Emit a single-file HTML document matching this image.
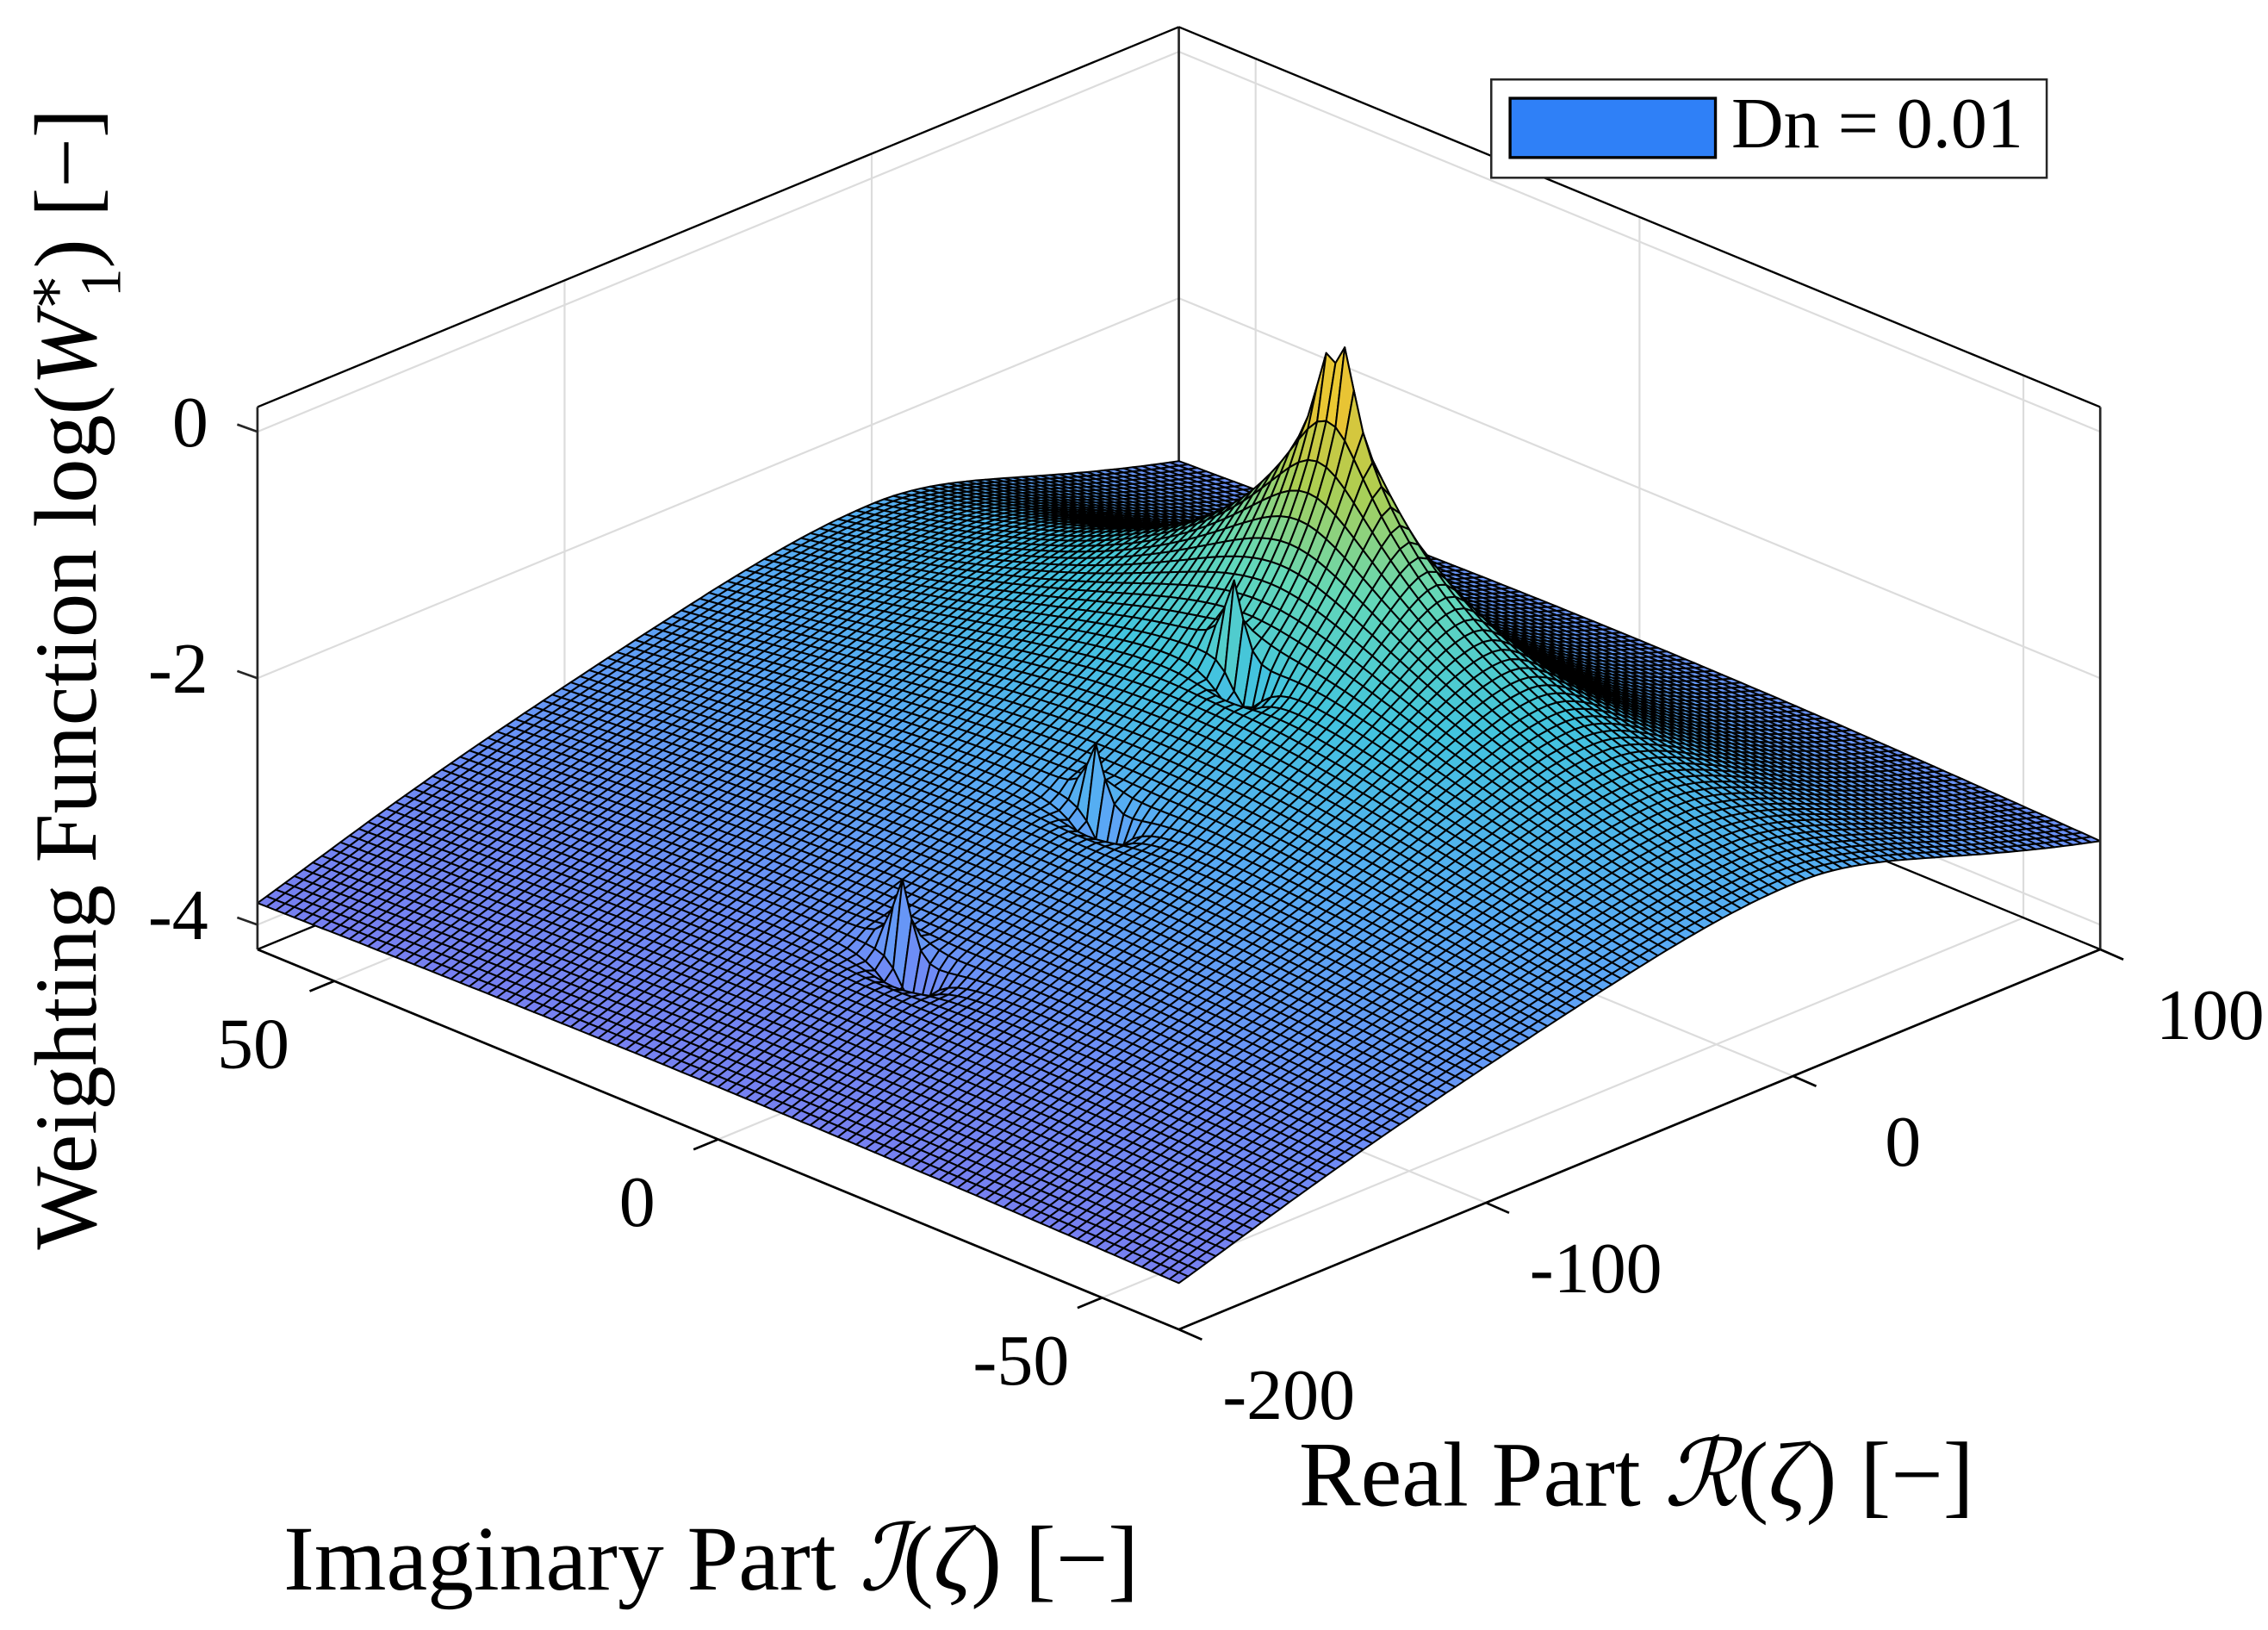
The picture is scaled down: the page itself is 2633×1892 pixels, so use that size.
<!DOCTYPE html>
<html>
<head>
<meta charset="utf-8">
<style>
html,body{margin:0;padding:0;background:#fff;}
svg{display:block;}
text{font-family:"Liberation Serif","DejaVu Serif",serif;fill:#000;}
</style>
</head>
<body>
<svg id="chart" xmlns="http://www.w3.org/2000/svg" width="2633" height="1892" viewBox="0 0 1568 1128" preserveAspectRatio="none">
  <g id="grid"></g>
  <g id="boxback"></g>
  <g id="surface"></g>
  <g id="axes"></g>
  <g id="labels"></g>
  <text transform="translate(66,470) rotate(-90)" text-anchor="middle" font-size="61">Weighting Function log(<tspan font-style="italic">W</tspan><tspan font-size="40" dy="-21">∗</tspan><tspan font-size="40" dx="-17" dy="38">1</tspan><tspan dy="-17">) [−]</tspan></text>
  <text x="196" y="1100" font-size="64">Imaginary Part <tspan font-style="italic">ℐ</tspan>(<tspan font-style="italic">ζ</tspan>) [−]</text>
  <text x="898" y="1042" font-size="64">Real Part <tspan font-style="italic">ℛ</tspan>(<tspan font-style="italic">ζ</tspan>) [−]</text>
  <g>
    <rect x="1031" y="55" width="384" height="68" fill="#fff" stroke="#262626" stroke-width="1.5"/>
    <rect x="1044" y="68" width="142" height="41" fill="#2f80f7" stroke="#000" stroke-width="2"/>
    <text x="1197" y="102" font-size="50">Dn = 0.01</text>
  </g>
</svg>
<script>
// ---- data ----
const realRange = [-200, 100];
const imagRange = [-60, 60];
const zRange = [-4.2, 0.2];
const realTicks = [-200, -100, 0, 100];
const imagTicks = [-50, 0, 50];
const zTicks = [0, -2, -4];
const realTickLabels = ["-200", "-100", "0", "100"];
const imagTickLabels = ["-50", "0", "50"];
const zTickLabels = ["0", "-2", "-4"];
const gridCount = 100;
// poles of the weighting function
const poleReal = [1, 1, 1, -32, -77, -140];
const poleImag = [0, -1.2, 1.2, 0, 0, 0];
const poleAmp = [12, 1.2, 0.8, 0.045, 0.0055, 0.0022];
const poleEps = [45, 1, 1, 1, 1, 1];
const poleBroad = [1, 0, 0, 0, 0, 0];
// zeros (dips) next to the small poles
const zeroReal = [-36, -81, -144];
const zeroImag = [-2.4, -2.4, -2.4];
const zeroDepth = [5, 5, 5];
const zeroWidth = [16, 16, 16];
const bgFloor = -4.4;
const bgRise = 1.0;

// ---- projection ----
function P(R, I, z) {
  const r = (R - realRange[0]) / (realRange[1] - realRange[0]);
  const i = (I - imagRange[0]) / (imagRange[1] - imagRange[0]);
  return [815 + 637 * r - 637 * i, 920 - 263 * r - 263 * i - (z - zRange[0]) * 85.3];
}
function bump(R) {
  return R <= 0 ? Math.exp(-(R / 95) * (R / 95)) : 0.35 + 0.65 * Math.exp(-(R / 60) * (R / 60));
}
function zval(R, I) {
  let W = Math.pow(10, bgFloor + bgRise * bump(R));
  for (let k = 0; k < poleReal.length; k++) {
    const dR = R - poleReal[k], dI = I - poleImag[k];
    if (poleBroad[k]) {
      const sR = dR > 0 ? 4 : 1;
      const taper = Math.exp(-Math.pow(R / 185, 4));
      W += poleAmp[k] / (dR * dR * sR + 2.5 * dI * dI + poleEps[k]) * taper;
    } else {
      W += poleAmp[k] / (dR * dR + dI * dI + poleEps[k]);
    }
  }
  for (let k = 0; k < zeroReal.length; k++) {
    const dR = R - zeroReal[k], dI = I - zeroImag[k];
    const d2 = dR * dR + dI * dI;
    W *= (d2 + zeroDepth[k]) / (d2 + zeroWidth[k]);
  }
  let z = Math.log10(W);
  return Math.max(zRange[0], Math.min(zRange[1], z));
}
const stops = [[0,122,122,238],[0.15,110,140,246],[0.3,88,170,245],[0.45,66,196,222],[0.6,100,216,184],[0.75,172,206,82],[0.9,232,196,52],[1,248,226,40]];
function cmap(t) {
  t = Math.max(0, Math.min(1, t));
  for (let k = 1; k < stops.length; k++) {
    if (t <= stops[k][0]) {
      const a = stops[k - 1], b = stops[k], f = (t - a[0]) / (b[0] - a[0]);
      return "rgb(" + [1, 2, 3].map(j => Math.round(a[j] + (b[j] - a[j]) * f)).join(",") + ")";
    }
  }
  return "rgb(248,226,40)";
}
const NS = "http://www.w3.org/2000/svg";
function line(g, a, b, color, w, name) {
  const el = document.createElementNS(NS, "line");
  el.setAttribute("x1", a[0]); el.setAttribute("y1", a[1]);
  el.setAttribute("x2", b[0]); el.setAttribute("y2", b[1]);
  el.setAttribute("stroke", color); el.setAttribute("stroke-width", w);
  
  
  g.appendChild(el);
}
const zl = zRange[0], zh = zRange[1];
const R0 = realRange[0], R1 = realRange[1], I0 = imagRange[0], I1 = imagRange[1];

// ---- grid ----
const grid = document.getElementById("grid");
const gc = "#dcdcdc", gw = 1.3;
realTicks.forEach(R => {
  if (R > R0 && R < R1) {
    line(grid, P(R, I1, zl), P(R, I1, zh), gc, gw, "grid-line-real-wall");
    line(grid, P(R, I0, zl), P(R, I1, zl), gc, gw, "grid-line-real-floor");
  }
});
imagTicks.forEach(I => {
  line(grid, P(R1, I, zl), P(R1, I, zh), gc, gw, "grid-line-imag-wall");
  line(grid, P(R0, I, zl), P(R1, I, zl), gc, gw, "grid-line-imag-floor");
});
zTicks.forEach(z => {
  line(grid, P(R0, I1, z), P(R1, I1, z), gc, gw, "grid-line-z-left-wall");
  line(grid, P(R1, I1, z), P(R1, I0, z), gc, gw, "grid-line-z-right-wall");
});
const bb = document.getElementById("boxback");
line(bb, P(R0, I1, zl), P(R1, I1, zl), "#000", 1.4, "box-edge");
line(bb, P(R1, I1, zl), P(R1, I0, zl), "#000", 1.4, "box-edge");
line(bb, P(R1, I1, zl), P(R1, I1, zh), "#262626", 1.6, "box-edge-back-vertical");

// ---- surface ----
const N = gridCount;
const Rs = [], Is = [], Z = [];
for (let a = 0; a <= N; a++) Rs.push(R0 + (R1 - R0) * a / N);
for (let b = 0; b <= N; b++) Is.push(I0 + (I1 - I0) * b / N);
for (let a = 0; a <= N; a++) { Z.push([]); for (let b = 0; b <= N; b++) Z[a].push(zval(Rs[a], Is[b])); }
const surf = document.getElementById("surface");
const frag = document.createDocumentFragment();
for (let s = 2 * (N - 1); s >= 0; s--) {
  for (let a = Math.min(N - 1, s); a >= 0 && s - a <= N - 1; a--) {
    const b = s - a;
    const p1 = P(Rs[a], Is[b], Z[a][b]), p2 = P(Rs[a + 1], Is[b], Z[a + 1][b]);
    const p3 = P(Rs[a + 1], Is[b + 1], Z[a + 1][b + 1]), p4 = P(Rs[a], Is[b + 1], Z[a][b + 1]);
    const zm = (Z[a][b] + Z[a + 1][b] + Z[a + 1][b + 1] + Z[a][b + 1]) / 4;
    const el = document.createElementNS(NS, "path");
    el.setAttribute("d", "M" + p1[0].toFixed(1) + " " + p1[1].toFixed(1) + "L" + p2[0].toFixed(1) + " " + p2[1].toFixed(1) + "L" + p3[0].toFixed(1) + " " + p3[1].toFixed(1) + "L" + p4[0].toFixed(1) + " " + p4[1].toFixed(1) + "Z");
    el.setAttribute("fill", cmap((zm + 4.0) / 4.2));
    el.setAttribute("stroke", "#000");
    el.setAttribute("stroke-width", "1.2");
    el.setAttribute("stroke-linejoin", "round");
    
    
    frag.appendChild(el);
  }
}
surf.appendChild(frag);

// ---- axes ----
const ax = document.getElementById("axes");
line(ax, P(R0, I1, zl), P(R0, I1, zh), "#262626", 1.6, "z-axis-line");
line(ax, P(R1, I0, zl), P(R1, I0, zh), "#262626", 1.6, "box-edge-right-vertical");
line(ax, P(R0, I1, zh), P(R1, I1, zh), "#000", 1.4, "box-edge-top");
line(ax, P(R1, I1, zh), P(R1, I0, zh), "#000", 1.4, "box-edge-top");
line(ax, P(R0, I1, zl), P(R0, I0, zl), "#000", 1.6, "imag-axis-line");
line(ax, P(R0, I0, zl), P(R1, I0, zl), "#000", 1.6, "real-axis-line");
const lab = document.getElementById("labels");
function label(x, y, t, anchor, name) {
  const el = document.createElementNS(NS, "text");
  el.setAttribute("x", x); el.setAttribute("y", y);
  el.setAttribute("font-size", "50");
  el.setAttribute("text-anchor", anchor);
  el.textContent = t;
  
  
  lab.appendChild(el);
}
realTicks.forEach((R, k) => {
  const a = P(R, I0, zl);
  line(ax, a, [a[0] + 16, a[1] + 7], "#000", 1.6, "real-tick");
  label(a[0] + 76, a[1] + 62, realTickLabels[k], "middle", "real-tick-label");
});
imagTicks.forEach((I, k) => {
  const a = P(R0, I, zl);
  line(ax, a, [a[0] - 17, a[1] + 7], "#000", 1.6, "imag-tick");
  label(a[0] - 56, a[1] + 60, imagTickLabels[k], "middle", "imag-tick-label");
});
zTicks.forEach((z, k) => {
  const a = P(R0, I1, z);
  line(ax, a, [a[0] - 14, a[1] - 5], "#262626", 1.6, "z-tick");
  label(a[0] - 34, a[1] + 10, zTickLabels[k], "end", "z-tick-label");
});
</script>
</body>
</html>
